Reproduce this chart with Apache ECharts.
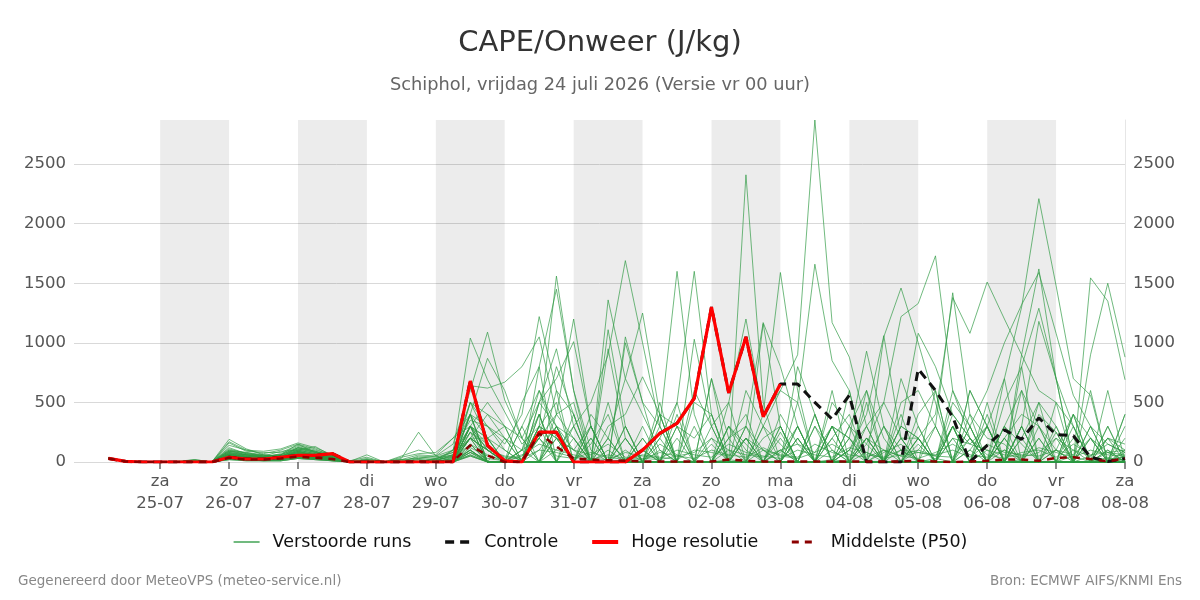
<!DOCTYPE html>
<html><head><meta charset="utf-8">
<script src="https://cdn.jsdelivr.net/npm/echarts@6/dist/echarts.min.js"></script>
<style>html,body{margin:0;padding:0;background:#fff}#c{width:1200px;height:600px}</style>
</head><body><div id="c"></div>
<script>
// Time axis in hours since 24-07-2026 00:00; data every 6 h from 24-07 06:00 to 08-08 00:00
const firstHour = 6;
const stepHours = 6;
const tickHours = [24,48,72,96,120,144,168,192,216,240,264,288,312,336,360];
const tickLabels = ['za\n25-07','zo\n26-07','ma\n27-07','di\n28-07','wo\n29-07','do\n30-07','vr\n31-07','za\n01-08','zo\n02-08','ma\n03-08','di\n04-08','wo\n05-08','do\n06-08','vr\n07-08','za\n08-08'];
const shadedDays = [[24,48],[72,96],[120,144],[168,192],[216,240],[264,288],[312,336]];

const hires = [30,5,0, 0,0,0,0, 40,25,25,40, 55,55,70,0, 0,0,0,0, 0,0,680,140, 10,0,250,250, 0,0,0,0, 100,240,325,535, 1300,580,1050,380, 655];
const control = [30,5,0, 0,0,0,0, 40,25,25,40, 55,55,70,0, 0,0,0,0, 0,0,680,140, 10,0,250,250, 0,0,0,0, 100,240,325,535, 1300,580,1050,380, 655,655,500,360, 560,0,0,0, 780,600,380,0, 140,270,190,370, 230,220,40,5, 30];
const median = [30,5,0, 0,0,0,0, 35,20,20,30, 45,35,25,0, 0,0,0,5, 0,5,140,55, 0,0,240,130, 30,20,15,10, 5,5,5,5, 5,20,10,5, 5,5,5,5, 5,5,5,5, 10,5,0,5, 10,20,20,10, 35,40,25,5, 30];

const r01 = [30,5,0, 0,0,10,0, 190,110,60,40, 120,90,40,0, 20,0,10,40, 30,80,1040,690, 420,150,300,1560, 600,100,0,20, 0,150,60,0, 0,20,0,300, 150,0,0,20, 0,0,80,150, 0,30,0,0, 100,0,20,400, 250,0,0,30, 20];
const r02 = [25,3,0, 0,5,20,0, 160,90,80,80, 140,100,60,10, 0,0,20,30, 50,150,600,1090, 520,200,0,100, 300,500,900,1690, 1000,300,0,0, 0,0,300,100, 0,0,0,300, 200,0,0,100, 20,0,0,600, 300,0,0,0, 100,400,200,0, 50];
const r03 = [30,5,0, 0,0,0,0, 100,60,50,90, 100,130,50,5, 60,0,0,20, 10,60,640,620, 670,800,1050,400, 1200,300,0,0, 0,400,300,0, 0,200,0,0, 250,0,0,0, 0,600,200,0, 0,0,300,0, 0,0,600,300, 0,0,0,200, 100];
const r04 = [28,4,0, 0,0,15,0, 80,50,40,60, 150,80,70,0, 30,0,50,100, 60,200,400,870, 600,200,500,950, 300,0,1360,700, 400,100,0,0, 0,300,100,0, 400,150,0,0, 0,80,0,200, 0,0,0,100, 0,300,150,0, 200,0,0,40, 0];
const r05 = [32,6,0, 0,0,5,0, 120,70,50,30, 90,60,30,0, 10,0,30,250, 50,0,300,200, 0,500,800,1450, 600,0,200,700, 1250,400,0,0, 150,0,0,0, 80,300,0,0, 0,0,100,0, 0,0,200,150, 300,0,0,0, 0,0,50,200, 150];
const r06 = [30,5,0, 0,0,0,0, 60,40,30,40, 80,60,50,0, 0,0,0,10, 20,100,500,300, 150,400,1220,600, 400,0,0,1000, 500,300,1600,400, 0,300,150,0, 0,0,300,100, 0,150,0,300, 200,0,0,0, 0,200,0,0, 0,0,300,150, 80];
const r07 = [30,4,0, 0,0,0,0, 40,30,20,20, 60,40,30,0, 0,0,0,0, 10,50,300,150, 0,0,500,300, 0,400,200,0, 0,200,500,1600, 400,0,2410,500, 0,0,300,0, 0,200,0,0, 150,0,300,0, 0,100,0,0, 100,0,0,80, 0];
const r08 = [30,5,0, 0,0,5,0, 70,40,30,50, 90,50,40,0, 10,0,0,30, 20,40,200,100, 0,0,300,200, 100,300,0,0, 200,0,300,200, 400,0,600,300, 600,900,2870,1170, 880,300,0,0, 300,0,0,200, 0,0,300,0, 0,50,0,100, 0];
const r09 = [30,5,0, 0,5,10,0, 110,70,60,50, 100,70,40,0, 20,0,0,50, 40,80,200,400, 200,0,300,500, 0,150,400,0, 0,400,0,600, 300,500,1200,400, 600,500,1660,850, 600,0,0,0, 200,0,300,0, 0,300,0,0, 250,0,0,0, 30];
const r10 = [30,5,0, 0,0,0,0, 90,60,40,70, 130,90,50,0, 0,0,0,0, 30,60,250,150, 0,50,200,400, 500,0,0,300, 0,0,400,0, 700,200,300,1170, 800,300,0,200, 400,0,1050,1460, 1000,500,0,0, 300,0,0,200, 0,300,0,0, 80];
const r11 = [30,5,0, 0,0,0,0, 50,30,20,40, 70,50,30,0, 0,0,10,0, 0,30,150,60, 0,0,100,300, 0,0,200,0, 0,100,0,0, 200,0,0,100, 0,0,400,0, 300,150,500,1220, 1330,1730,600,200, 0,0,200,0, 0,100,0,0, 50];
const r12 = [30,6,0, 0,0,20,0, 140,100,70,100, 150,110,50,0, 0,0,0,20, 0,100,400,200, 300,0,0,200, 0,200,0,0, 100,0,0,300, 0,0,200,0, 0,300,0,0, 100,0,0,300, 200,400,1380,1080, 1510,1200,900,600, 500,300,0,100, 0];
const r13 = [29,4,0, 0,0,0,0, 30,20,20,30, 50,40,20,0, 0,0,0,0, 0,20,100,0, 0,300,600,200, 0,0,0,200, 0,0,0,0, 300,0,0,0, 0,0,0,300, 0,0,0,0, 100,300,1420,400, 200,150,0,300, 0,0,200,0, 0];
const r14 = [31,5,0, 0,0,10,0, 170,100,90,110, 160,120,60,10, 40,0,20,60, 50,100,350,300, 100,0,0,300, 200,0,0,100, 0,0,200,0, 0,0,0,200, 300,0,0,0, 0,200,0,0, 0,300,0,100, 300,700,1300,2210, 1480,700,560,0, 400];
const r15 = [30,5,0, 0,0,5,0, 90,80,50,60, 110,80,40,0, 10,0,20,0, 20,50,200,100, 0,100,400,0, 0,0,0,0, 200,0,0,0, 0,0,200,0, 100,0,0,300, 0,0,0,0, 200,0,0,300, 600,1000,1320,1590, 1080,560,300,0, 0];
const r16 = [30,5,0, 0,0,0,0, 60,50,40,30, 80,60,30,0, 0,0,0,0, 0,0,80,0, 0,0,400,0, 0,0,100,0, 0,0,0,0, 0,100,0,0, 0,300,0,0, 200,930,300,100, 0,0,200,0, 0,0,0,200, 0,0,1545,1350, 690];
const r17 = [30,5,0, 0,0,0,0, 20,10,10,10, 30,20,10,0, 0,0,0,0, 0,0,50,0, 0,0,0,200, 0,300,0,0, 0,0,0,0, 0,0,300,0, 0,200,0,0, 100,400,1060,200, 0,0,0,400, 0,200,0,0, 0,0,900,1500, 880];
const r18 = [30,5,0, 0,0,5,0, 80,60,50,60, 120,90,50,0, 20,0,40,70, 80,200,300,500, 300,200,0,0, 200,0,0,0, 100,0,0,0, 0,0,0,0, 0,0,0,300, 0,0,0,300, 1080,800,400,200, 0,0,300,0, 500,0,300,0, 0];
const r19 = [30,5,0, 0,0,0,0, 50,40,30,30, 70,50,40,0, 0,0,0,0, 0,0,300,100, 0,0,500,700, 1010,300,0,0, 0,0,0,0, 0,0,0,0, 200,0,0,0, 0,0,0,0, 0,0,0,300, 0,500,800,1290, 700,0,0,0, 0];
const r20 = [30,5,0, 0,0,0,0, 40,40,20,20, 60,40,20,0, 0,0,0,0, 0,0,100,0, 200,0,0,0, 300,0,1110,300, 0,0,0,0, 0,0,200,0, 0,0,0,0, 200,0,0,0, 0,0,300,0, 0,0,300,1180, 700,300,0,0, 0];
const r21 = [30,5,0, 0,0,0,0, 100,80,60,50, 110,80,40,0, 0,0,0,0, 30,60,300,100, 0,100,0,0, 0,0,950,200, 0,0,0,0, 0,0,0,0, 100,0,0,0, 0,0,0,0, 0,0,400,200, 0,0,900,1620, 700,0,0,0, 0];
const r22 = [30,5,0, 0,0,0,0, 70,60,40,40, 90,60,30,0, 0,0,0,0, 0,0,200,200, 100,0,0,300, 0,0,0,1050, 500,0,0,0, 0,0,0,0, 0,200,0,0, 0,0,0,0, 200,0,0,0, 0,0,0,0, 0,0,0,0, 0];
const r23 = [30,5,0, 0,0,0,0, 30,20,10,20, 40,30,20,0, 0,0,0,0, 0,0,60,0, 0,0,200,0, 0,0,300,400, 715,400,0,0, 0,0,0,0, 0,0,0,0, 0,0,0,200, 0,0,0,0, 0,0,0,0, 0,0,0,0, 0];
const r24 = [30,5,0, 0,0,0,0, 50,30,30,30, 60,50,30,0, 0,0,0,0, 0,0,150,0, 0,0,800,0, 0,0,0,0, 0,200,0,1030, 300,0,0,0, 0,0,0,0, 0,0,0,0, 0,0,0,0, 0,0,0,0, 0,0,0,0, 0];
const r25 = [30,5,0, 0,0,0,0, 40,30,20,20, 50,40,20,0, 0,0,0,0, 0,0,100,0, 0,0,0,0, 0,0,0,0, 0,300,0,0, 0,300,0,1160, 300,0,0,0, 0,0,0,0, 0,0,0,0, 0,0,0,0, 0,0,0,0, 0];
const r26 = [30,5,0, 0,0,0,0, 60,40,30,40, 80,50,30,0, 0,0,0,0, 0,0,200,0, 0,0,0,0, 0,0,0,0, 0,0,0,0, 0,0,0,400, 1590,600,0,0, 0,0,0,0, 0,0,0,0, 0,0,0,0, 0,0,0,0, 0];
const r27 = [30,5,0, 0,0,0,0, 80,60,40,50, 100,70,30,0, 0,0,0,0, 0,30,400,300, 200,100,600,300, 100,0,0,200, 0,0,0,0, 0,200,400,0, 300,0,0,0, 0,0,0,700, 300,0,0,0, 400,0,0,500, 0,0,0,300, 0];
const r28 = [30,5,0, 0,0,0,0, 30,20,20,20, 40,30,20,0, 0,0,0,0, 0,0,300,0, 0,0,200,800, 400,0,0,0, 0,0,0,0, 0,0,0,0, 0,800,400,0, 0,0,300,0, 0,0,0,0, 0,0,0,0, 300,0,0,0, 0];
const r29 = [30,5,0, 0,0,0,0, 50,40,20,20, 60,40,20,0, 0,0,0,0, 0,0,500,200, 0,0,0,0, 0,300,0,0, 0,0,300,0, 0,0,0,300, 0,0,0,0, 600,0,0,0, 0,0,0,0, 0,0,800,0, 0,0,200,0, 0];
const r30 = [30,5,0, 0,0,0,0, 70,50,30,40, 90,60,30,0, 0,0,0,0, 0,0,400,0, 0,0,400,0, 0,0,0,0, 0,0,0,0, 700,0,0,0, 0,0,0,0, 0,500,0,0, 0,0,0,0, 0,0,0,0, 0,0,0,0, 400];
const r31 = [30,5,0, 0,0,0,0, 20,20,10,10, 30,20,10,0, 0,0,0,0, 0,0,50,0, 0,300,0,0, 0,0,500,0, 0,0,0,0, 0,0,0,0, 0,0,0,200, 0,0,0,0, 0,0,0,0, 0,700,0,0, 0,0,0,0, 0];
const r32 = [30,5,0, 0,0,0,0, 40,30,20,30, 50,40,20,0, 0,0,0,0, 0,0,200,0, 0,0,0,600, 0,0,0,0, 0,500,0,0, 0,0,0,0, 0,0,0,0, 0,0,0,0, 0,0,0,0, 0,0,0,0, 0,200,0,0, 0];
const r33 = [30,5,0, 0,0,0,0, 60,30,20,30, 60,40,20,0, 0,0,0,0, 0,0,400,0, 0,0,0,0, 0,0,0,0, 0,0,0,0, 0,0,0,0, 0,0,0,600, 0,0,0,0, 0,0,0,0, 0,0,0,0, 0,0,0,0, 0];
const r34 = [30,5,0, 0,0,0,0, 50,30,30,30, 70,50,20,0, 0,0,0,0, 0,0,300,0, 0,0,0,0, 0,0,0,300, 0,0,0,0, 0,0,0,0, 0,0,0,0, 0,0,0,0, 0,600,0,0, 0,0,0,0, 0,0,0,0, 0];
const r35 = [30,5,0, 0,0,0,0, 30,20,20,20, 40,30,20,0, 0,0,0,0, 0,0,250,0, 0,0,0,0, 0,0,0,0, 0,0,0,0, 0,0,0,0, 0,0,0,0, 0,0,0,0, 0,0,0,0, 0,0,0,0, 0,0,0,0, 100];
const r36 = [30,5,0, 0,0,0,0, 90,70,50,60, 120,80,40,0, 0,0,0,0, 0,40,500,400, 300,0,0,0, 0,200,0,0, 0,0,0,500, 400,0,0,0, 0,0,0,0, 0,300,0,0, 0,0,0,0, 300,0,0,0, 0,0,0,0, 0];
const r37 = [30,5,0, 0,0,0,0, 60,40,40,40, 80,60,30,0, 0,0,0,0, 0,0,200,100, 0,0,0,400, 200,0,0,0, 300,0,0,0, 0,0,0,0, 0,0,0,500, 300,0,0,0, 0,0,600,300, 0,0,0,0, 0,0,0,0, 0];
const r38 = [30,5,0, 0,0,0,0, 40,30,20,20, 50,30,20,0, 0,0,0,0, 0,0,100,0, 0,0,300,0, 0,0,0,0, 0,0,500,0, 0,0,0,0, 0,0,0,0, 0,0,0,400, 0,0,0,0, 0,0,300,0, 0,400,0,0, 0];
const r39 = [30,5,0, 0,0,0,0, 20,10,10,10, 30,20,10,0, 0,0,0,0, 0,0,60,0, 0,0,0,0, 0,0,0,0, 0,0,0,0, 0,500,0,0, 0,0,0,0, 100,300,500,200, 200,0,0,0, 0,200,400,300, 100,0,0,200, 0];
const r40 = [30,5,0, 0,0,0,0, 50,30,30,30, 60,40,20,0, 0,0,0,0, 0,0,300,0, 0,0,0,0, 400,0,0,0, 0,0,0,0, 0,0,0,0, 300,0,0,100, 0,200,0,0, 400,600,0,0, 0,0,200,500, 300,0,0,0, 200];
const r41 = [30,5,0, 0,0,0,0, 30,20,20,20, 40,30,10,0, 0,0,0,0, 0,0,80,0, 0,0,0,0, 0,0,0,0, 0,0,0,0, 0,0,0,0, 0,0,400,0, 0,0,0,500, 600,300,0,0, 0,0,0,0, 0,0,0,600, 0];
const r42 = [30,5,0, 0,0,0,0, 70,50,30,40, 100,70,30,0, 0,0,0,0, 0,0,300,200, 0,0,0,0, 0,0,0,0, 0,0,0,0, 0,0,0,0, 0,0,0,0, 300,600,0,0, 0,0,0,600, 300,0,0,0, 0,400,0,0, 0];
const r43 = [30,5,0, 0,0,0,0, 40,20,20,20, 50,30,20,0, 0,0,0,0, 0,0,150,0, 0,0,0,0, 0,0,0,0, 0,0,0,0, 0,0,0,0, 0,500,0,0, 0,0,0,0, 0,0,500,300, 0,300,600,0, 0,0,0,300, 0];
const r44 = [30,5,0, 0,0,0,0, 60,40,30,30, 70,50,30,0, 0,0,0,0, 0,0,400,0, 0,0,0,0, 0,0,0,0, 0,0,0,0, 0,0,0,0, 0,200,0,0, 0,0,300,0, 0,0,0,0, 500,0,0,0, 0,0,600,0, 300];
const r45 = [30,5,0, 0,0,0,0, 50,30,30,30, 60,40,20,0, 0,0,0,0, 0,20,200,100, 50,30,100,80, 40,20,60,30, 20,80,50,30, 100,60,40,120, 50,30,80,150, 60,40,100,50, 30,80,150,60, 40,100,50,120, 80,40,100,60, 50];
const r46 = [30,5,0, 0,0,0,0, 40,30,20,20, 50,30,20,0, 0,0,0,0, 0,10,120,50, 20,60,150,100, 60,30,20,80, 50,30,100,60, 40,150,80,50, 30,100,60,40, 120,80,30,60, 100,50,40,200, 60,30,80,100, 40,150,60,80, 100];
const r47 = [30,5,0, 0,0,0,0, 30,20,20,20, 40,30,20,0, 0,0,0,0, 0,0,80,30, 10,100,200,50, 30,80,40,20, 60,40,20,100, 80,50,200,100, 60,40,150,80, 40,200,100,50, 80,60,100,40, 150,80,60,50, 100,60,200,80, 60];
const r48 = [30,5,0, 0,0,0,0, 60,40,30,30, 60,40,20,0, 0,0,0,0, 0,0,250,120, 40,20,300,200, 100,60,150,40, 30,20,50,80, 200,100,60,40, 100,150,80,300, 200,60,40,100, 80,50,300,150, 100,60,40,80, 200,100,50,150, 80];

const runs = [r01,r02,r03,r04,r05,r06,r07,r08,r09,r10,r11,r12,r13,r14,r15,r16,r17,r18,r19,r20,r21,r22,r23,r24,r25,r26,r27,r28,r29,r30,r31,r32,r33,r34,r35,r36,r37,r38,r39,r40,r41,r42,r43,r44,r45,r46,r47,r48];

const FONT = 'DejaVu Sans';
const toPts = arr => arr.map((v, i) => [firstHour + stepHours * i, v]);

const series = [];
// shaded alternating days
series.push({
  type: 'line', data: [], silent: true, z: 0,
  markArea: { silent: true, itemStyle: { color: 'rgba(0,0,0,0.075)' },
    data: shadedDays.map(d => [{ xAxis: d[0] }, { xAxis: d[1] }]) }
});
runs.forEach(r => series.push({
  name: 'Verstoorde runs', type: 'line', data: toPts(r), symbol: 'none', silent: true,
  lineStyle: { color: '#2e9a43', width: 1, opacity: 0.68 }, itemStyle: { color: '#2e9a43' }, z: 2
}));
series.push({ name: 'Controle', type: 'line', data: toPts(control), symbol: 'none', z: 3,
  lineStyle: { color: '#111111', width: 3, type: [9, 6] }, itemStyle: { color: '#111111' } });
series.push({ name: 'Hoge resolutie', type: 'line', data: toPts(hires), symbol: 'none', z: 4,
  lineStyle: { color: '#ff0000', width: 3.2 }, itemStyle: { color: '#ff0000' } });
series.push({ name: 'Middelste (P50)', type: 'line', data: toPts(median), symbol: 'none', z: 5,
  lineStyle: { color: '#8b0000', width: 2.5, type: [7, 6] }, itemStyle: { color: '#8b0000' } });

const yLabel = { fontFamily: FONT, fontSize: 16.5, color: '#555' };
const chart = echarts.init(document.getElementById('c'), null, { renderer: 'canvas' });
chart.setOption({
  animation: false,
  backgroundColor: '#fff',
  title: [
    { text: 'CAPE/Onweer (J/kg)', left: 'center', top: 24, textStyle: { fontFamily: FONT, fontSize: 29, fontWeight: 'normal', color: '#333' } },
    { text: 'Schiphol, vrijdag 24 juli 2026 (Versie vr 00 uur)', left: 'center', top: 71, textStyle: { fontFamily: FONT, fontSize: 17.8, fontWeight: 'normal', color: '#666' } },
    { text: 'Gegenereerd door MeteoVPS (meteo-service.nl)', left: 18, top: 574, padding: 0, textStyle: { fontFamily: FONT, fontSize: 13.5, fontWeight: 'normal', color: '#888' } },
    { text: 'Bron: ECMWF AIFS/KNMI Ens', right: 18, top: 574, padding: 0, textStyle: { fontFamily: FONT, fontSize: 13.5, fontWeight: 'normal', color: '#888' } }
  ],
  legend: {
    top: 528, left: 'center', itemWidth: 26, itemHeight: 14, itemGap: 32,
    itemStyle: { opacity: 0 },
    data: [
      { name: 'Verstoorde runs' },
      { name: 'Controle', lineStyle: { width: 3.5 } },
      { name: 'Hoge resolutie', lineStyle: { width: 4 } },
      { name: 'Middelste (P50)', lineStyle: { width: 3 } }
    ],
    textStyle: { fontFamily: FONT, fontSize: 17.5, color: '#111', padding: [0, 0, 0, 8] }
  },
  grid: { left: 74, right: 75, top: 120, bottom: 138, containLabel: false },
  xAxis: {
    type: 'value', min: -6, max: 360,
    axisLine: { show: false },
    axisTick: { show: true, customValues: tickHours, length: 7, lineStyle: { color: '#666', width: 1.5 } },
    axisLabel: { customValues: tickHours, margin: 9, fontFamily: FONT, fontSize: 16.5, color: '#555', lineHeight: 22,
      formatter: v => tickLabels[tickHours.indexOf(v)] || '' },
    splitLine: { show: false }
  },
  yAxis: [
    { type: 'value', min: 0, max: 2870, interval: 500, position: 'left',
      axisLine: { show: false }, axisTick: { show: false },
      axisLabel: Object.assign({ margin: 8, showMaxLabel: false, formatter: v => (v % 500 === 0 ? String(v) : '') }, yLabel),
      splitLine: { show: true, showMaxLine: false, lineStyle: { color: '#d9d9d9', width: 1 } } },
    { type: 'value', min: 0, max: 2870, interval: 500, position: 'right',
      axisLine: { show: true, lineStyle: { color: '#e6e6e6', width: 1 } }, axisTick: { show: false },
      axisLabel: Object.assign({ margin: 8, showMaxLabel: false, formatter: v => (v % 500 === 0 ? String(v) : '') }, yLabel),
      splitLine: { show: false } }
  ],
  series: series
});
</script>
</body></html>
